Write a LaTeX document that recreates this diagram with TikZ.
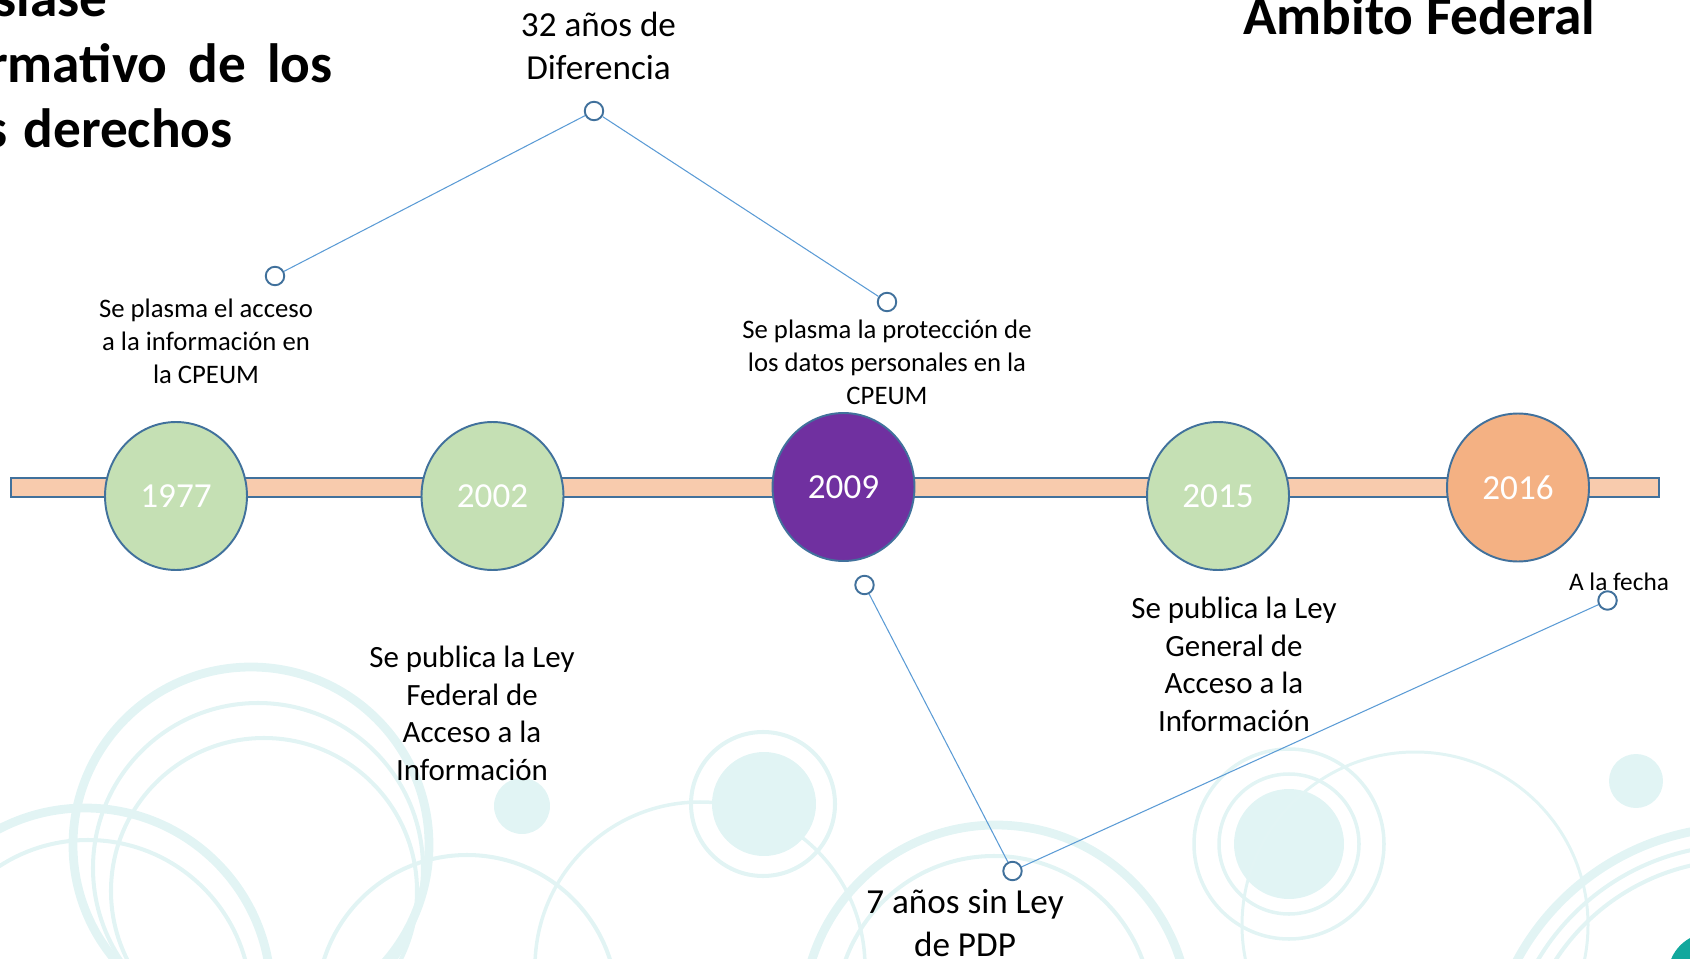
\documentclass[tikz,border=0pt]{standalone}
\usepackage{fontspec}
\setmainfont{Carlito}
\usetikzlibrary{shapes.geometric}

\definecolor{barfill}{HTML}{F8CBAD}
\definecolor{edgeblue}{HTML}{41719C}
\definecolor{linkblue}{HTML}{5B9BD5}
\definecolor{yeargreen}{HTML}{C5E0B4}
\definecolor{yearpurple}{HTML}{7030A0}
\definecolor{yearorange}{HTML}{F4B183}
\definecolor{decor}{HTML}{E2F4F4}
\definecolor{decordisc}{HTML}{E1F4F4}
\definecolor{tealdot}{HTML}{12A89D}

\begin{document}
\begin{tikzpicture}[x=0.02cm,y=-0.02cm,
    year/.style={ellipse,draw=edgeblue,line width=1.1pt,minimum width=2.84cm,
        minimum height=2.96cm,inner sep=0pt,text=white,font=\fontsize{20}{24}\selectfont},
    knob/.style={circle,draw=edgeblue,line width=1.1pt,fill=white,minimum size=0.37cm,inner sep=0pt},
    link/.style={draw=linkblue,line width=0.6pt},
    note/.style={align=center,inner sep=0pt,anchor=base},
    title/.style={inner sep=0pt,font=\fontsize{31.5}{37}\selectfont\bfseries},
    ring/.style={draw=decor,line width=2.3pt},
    thickring/.style={draw=decor,line width=5pt}]

    % --- Frame ---
    \useasboundingbox (0,0) rectangle (1690,959);
    \clip (0,0) rectangle (1690,959);

    % --- Background rings ---
    \draw[thickring] (251,845) circle (178);
    \draw[ring] (258,868) circle (165);
    \draw[ring] (264,891) circle (153);
    \draw[thickring] (85,994) circle (186);
    \draw[ring] (88,1003) circle (163);
    \draw[ring] (467,1005) circle (150);
    \draw[ring,line width=2pt] (700,967) circle (165);
    \fill[decordisc] (522,806) circle (28);
    \fill[decordisc] (764,804) circle (52);
    \draw[ring] (763,804) circle (72);
    \draw[thickring] (996,1018) circle (193);
    \draw[ring] (994,1014) circle (158);
    \fill[decordisc] (1289,844) circle (55);
    \draw[ring,line width=2pt] (1289,844) circle (70);
    \draw[ring,line width=2pt] (1289,844) circle (95);
    \draw[ring,line width=1.7pt] (1415,925) circle (173);
    \fill[decordisc] (1636,781) circle (27);
    \draw[thickring] (1740,1080) circle (253);
    \draw[ring] (1740,1080) circle (235);
    \draw[ring] (1740,1080) circle (220);
    \fill[tealdot] (1710,975) circle (42);

    % --- Titles (cut at the edges) ---
    \node[title,anchor=base east] (ttop) at (108,17) {siase};
    \node[title,anchor=base east] (tmid) at (333,83) {rmativo\hspace{12pt}de\hspace{12pt}los};
    \node[title,anchor=base east] (tlow) at (233,148) {s\hspace{9pt}derechos};
    \node[title,anchor=base west] (tfed) at (1243,35) {Ambito Federal};

    % --- Timeline bar ---
    \draw[edgeblue,fill=barfill,line width=0.9pt] (11,478) rectangle (1659,497);

    % --- Years ---
    \node[year,fill=yeargreen] (y77) at (176,496) {1977};
    \node[year,fill=yeargreen] (y02) at (492.5,496) {2002};
    \node[year,fill=yearpurple] (y09) at (843.5,487) {2009};
    \node[year,fill=yeargreen] (y15) at (1218,496) {2015};
    \node[year,fill=yearorange] (y16) at (1518,487.5) {2016};

    % --- Notes (placed by the baseline of their last line) ---
    \node[note,font=\fontsize{15.2}{18.7}\selectfont] (n77) at (206,383) {Se plasma el acceso\\a la información en\\la CPEUM};
    \node[note,font=\fontsize{15.2}{18.7}\selectfont] (n09) at (887,404) {Se plasma la protección de\\los datos personales en la\\CPEUM};
    \node[note,font=\fontsize{17.6}{21.3}\selectfont] (n02) at (472,780) {Se publica la Ley\\Federal de\\Acceso a la\\Información};
    \node[note,font=\fontsize{17.6}{21.3}\selectfont] (n15) at (1234,731) {Se publica la Ley\\General de\\Acceso a la\\Información};
    \node[note,font=\fontsize{20}{24.3}\selectfont] (n32) at (598.5,79.5) {32 años de\\Diferencia};
    \node[note,font=\fontsize{20}{24.3}\selectfont] (n7) at (965,956) {7 años sin Ley\\de PDP};
    \node[note,font=\fontsize{14.4}{17}\selectfont] (nfecha) at (1619,590.7) {A la fecha};

    % --- Connectors ---
    \node[knob] (ka) at (275,276) {};
    \node[knob] (kb) at (594,111) {};
    \node[knob] (kc) at (887,302) {};
    \node[knob] (kd) at (864.5,585) {};
    \node[knob] (ke) at (1012.5,871) {};
    \node[knob] (kf) at (1607.5,600.5) {};
    \draw[link] (ka) -- (kb) -- (kc);
    \draw[link] (kd) -- (ke) -- (kf);

\end{tikzpicture}
\end{document}
